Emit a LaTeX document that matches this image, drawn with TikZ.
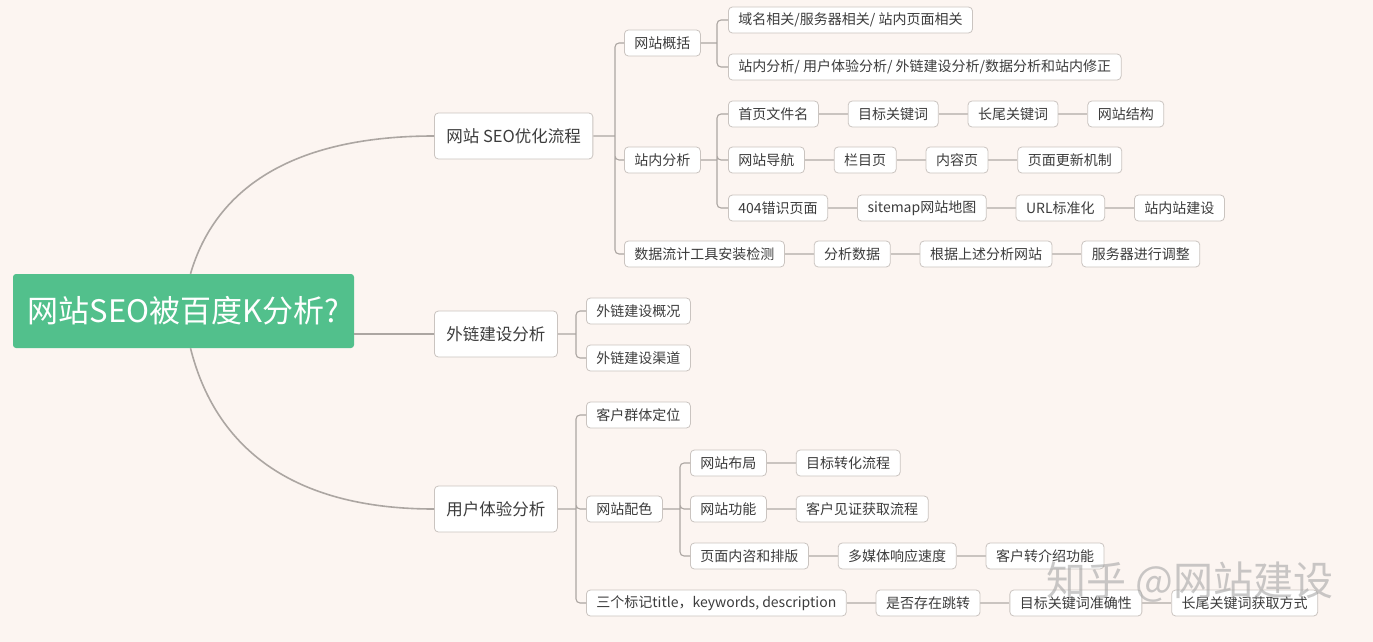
\documentclass[tikz,border=0pt]{standalone}
\usepackage{fontspec}
\usepackage{xcolor}
\usepackage{tikz}
\usetikzlibrary{positioning}
\newfontfamily\cjk{Noto Sans CJK SC}
\definecolor{seogreen}{RGB}{82,192,140}
\definecolor{paper}{RGB}{252,245,241}
\definecolor{linegray}{RGB}{172,166,162}
\definecolor{boxgray}{RGB}{202,196,192}
\definecolor{inkgray}{RGB}{60,60,60}

\begin{document}
\begin{tikzpicture}[
    x=1pt, y=-1pt,
    node distance=29pt,
    rootbox/.style={rectangle, fill=seogreen, text=white, rounded corners=3pt, minimum width=341pt, minimum height=74pt, font=\cjk\fontsize{31}{31}\selectfont},
    topic/.style={rectangle, draw=boxgray, fill=white, rounded corners=4pt, minimum height=46pt, inner xsep=12pt, anchor=west, text=inkgray, line width=0.8pt, font=\cjk\fontsize{16.5}{16.5}\selectfont},
    leaf/.style={rectangle, draw=boxgray, fill=white, rounded corners=4pt, minimum height=26pt, inner xsep=10pt, anchor=west, text=inkgray, line width=0.8pt, font=\cjk\fontsize{14}{14}\selectfont},
    mainline/.style={draw=linegray, line width=1.6pt},
    fork/.style={draw=linegray, line width=1.1pt, rounded corners=4pt},
    link/.style={draw=boxgray, line width=1.3pt},
    watermark/.style={text=black!35, opacity=0.6, font=\cjk\fontsize{40}{40}\selectfont}
]
    \useasboundingbox (0,0) rectangle (1373,642);
    \fill[paper] (0,0) rectangle (1373,642);

    % main topics
    \node[rootbox] (root) at (183.5,311) {网站SEO被百度K分析?};
    \node[topic] (seo) at (434,136) {网站 SEO优化流程};
    \node[topic] (wlink) at (434,334) {外链建设分析};
    \node[topic] (ux) at (434,509) {用户体验分析};

    % SEO branch
    \node[leaf] (gaikuo) at (624,43) {网站概括};
    \node[leaf] (zhannei) at (624,160) {站内分析};
    \node[leaf] (shuju) at (624,254) {数据流计工具安装检测};
    \node[leaf, right=of shuju] (fenxi) {分析数据};
    \node[leaf, right=of fenxi] (genju) {根据上述分析网站};
    \node[leaf, right=of genju] (fuwuqi) {服务器进行调整};

    \node[leaf] (yuming) at (728,20) {域名相关/服务器相关/ 站内页面相关};
    \node[leaf] (fenxiall) at (728,67) {站内分析/ 用户体验分析/ 外链建设分析/数据分析和站内修正};

    \node[leaf] (shouye) at (728,114) {首页文件名};
    \node[leaf, right=of shouye] (mubiao) {目标关键词};
    \node[leaf, right=of mubiao] (changwei) {长尾关键词};
    \node[leaf, right=of changwei] (jiegou) {网站结构};
    \node[leaf] (daohang) at (728,160) {网站导航};
    \node[leaf, right=of daohang] (lanmu) {栏目页};
    \node[leaf, right=of lanmu] (neirong) {内容页};
    \node[leaf, right=of neirong] (gengxin) {页面更新机制};
    \node[leaf] (cuowu) at (728,208) {404错识页面};
    \node[leaf, right=of cuowu] (sitemap) {sitemap网站地图};
    \node[leaf, right=of sitemap] (url) {URL标准化};
    \node[leaf, right=of url] (zhanzhan) {站内站建设};

    % external links branch
    \node[leaf] (gaikuang) at (586,311) {外链建设概况};
    \node[leaf] (qudao) at (586,358) {外链建设渠道};

    % user experience branch
    \node[leaf] (kehu) at (586,415) {客户群体定位};
    \node[leaf] (peise) at (586,509) {网站配色};
    \node[leaf] (biaoji) at (586,603) {三个标记title，keywords, description};
    \node[leaf, right=of biaoji] (tiaozhuan) {是否存在跳转};
    \node[leaf, right=of tiaozhuan] (zhunque) {目标关键词准确性};
    \node[leaf, right=of zhunque] (huoqu) {长尾关键词获取方式};

    \node[leaf] (buju) at (690,463) {网站布局};
    \node[leaf, right=of buju] (zhuanhua) {目标转化流程};
    \node[leaf] (gongneng) at (690,509) {网站功能};
    \node[leaf, right=of gongneng] (jianzheng) {客户见证获取流程};
    \node[leaf] (paiban) at (690,556) {页面内咨和排版};
    \node[leaf, right=of paiban] (meiti) {多媒体响应速度};
    \node[leaf, right=of meiti] (zhuanjie) {客户转介绍功能};

    % root to topics
    \draw[mainline] ([xshift=7pt]root.north) .. controls (215,190) and (290,136) .. (seo.west);
    \draw[mainline] (root.east |- wlink.west) -- (wlink.west);
    \draw[mainline] ([xshift=7pt]root.south) .. controls (215,446) and (290,509) .. (ux.west);

    % fork points
    \coordinate (seofork) at (615,136);
    \coordinate (gaikuofork) at (717,43);
    \coordinate (zhanneifork) at (717,160);
    \coordinate (wlinkfork) at (576,334);
    \coordinate (uxfork) at (576,509);
    \coordinate (peisefork) at (680,509);

    \draw[fork] (seo.east) -- (seofork) (seofork) |- (gaikuo.west) (seofork) |- (zhannei.west) (seofork) |- (shuju.west);
    \draw[fork] (gaikuo.east) -- (gaikuofork) (gaikuofork) |- (yuming.west) (gaikuofork) |- (fenxiall.west);
    \draw[fork] (zhannei.east) -- (zhanneifork) (zhanneifork) |- (shouye.west) (zhanneifork) |- (daohang.west) (zhanneifork) |- (cuowu.west);
    \draw[fork] (wlink.east) -- (wlinkfork) (wlinkfork) |- (gaikuang.west) (wlinkfork) |- (qudao.west);
    \draw[fork] (ux.east) -- (uxfork) (uxfork) |- (kehu.west) (uxfork) |- (peise.west) (uxfork) |- (biaoji.west);
    \draw[fork] (peise.east) -- (peisefork) (peisefork) |- (buju.west) (peisefork) |- (gongneng.west) (peisefork) |- (paiban.west);

    % chains
    \draw[link] (shuju) -- (fenxi) -- (genju) -- (fuwuqi);
    \draw[link] (shouye) -- (mubiao) -- (changwei) -- (jiegou);
    \draw[link] (daohang) -- (lanmu) -- (neirong) -- (gengxin);
    \draw[link] (cuowu) -- (sitemap) -- (url) -- (zhanzhan);
    \draw[link] (biaoji) -- (tiaozhuan) -- (zhunque) -- (huoqu);
    \draw[link] (buju) -- (zhuanhua);
    \draw[link] (gongneng) -- (jianzheng);
    \draw[link] (paiban) -- (meiti) -- (zhuanjie);

    \node[watermark] (zhihu) at (1190,582) {知乎 @网站建设};
\end{tikzpicture}
\end{document}
